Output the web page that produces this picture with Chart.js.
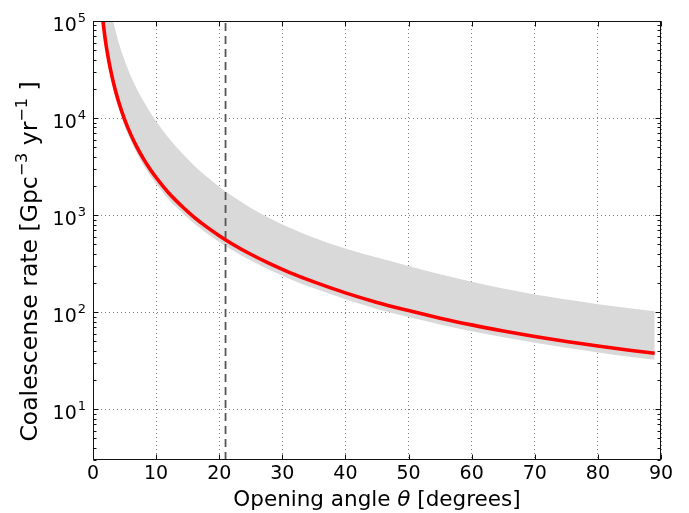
<!DOCTYPE html>
<html>
<head>
<meta charset="utf-8">
<script src="https://cdn.jsdelivr.net/npm/chart.js@4.4.1/dist/chart.umd.min.js"></script>
<style>
  body { margin: 0; background: #fff; }
</style>
</head>
<body>
<canvas id="rate_chart" width="689" height="513"></canvas>
<script>
// opening angle (degrees) and coalescence rate
const theta = [1.4, 2, 2.5, 3, 3.5, 4, 5, 6, 7, 8, 9, 10, 12, 14, 16, 18, 20, 22, 25, 28, 31, 35, 40, 45, 50, 55, 60, 65, 70, 75, 80, 85, 89];
const rate = [124000, 60700, 38900, 27000, 19800, 15200, 9720, 6750, 4960, 3800, 3010, 2440, 1690, 1250, 955, 756, 614, 508, 395, 316, 259, 205, 158, 126, 104, 86.8, 74, 64.1, 56.2, 49.9, 44.8, 40.5, 37.7];
const rateLow = [106600, 52200, 33500, 23200, 17000, 13100, 8360, 5810, 4270, 3270, 2590, 2100, 1450, 1075, 821, 650, 528, 437, 340, 272, 223, 176, 136, 108, 89, 74.6, 63.6, 55.1, 48.3, 42.9, 38.5, 34.8, 32.4];
const rateHigh = [529000, 257700, 163900, 113100, 82560, 62400, 39420, 27020, 19590, 14900, 11620, 9280, 6224, 4410, 3253, 2493, 1957, 1579, 1185, 930, 748, 585, 453, 365, 300, 246, 206, 175, 152, 135, 121, 110, 102];
const thetaCut = 21;

const xRange = [0, 90];
const yRange = [3, 100000];
const xTicks = [0, 10, 20, 30, 40, 50, 60, 70, 80, 90];
const yTicks = [10, 100, 1000, 10000, 100000];

const FONT = "'DejaVu Sans', sans-serif";

function pts(ys) {
  return theta.map((t, i) => ({ x: t, y: ys[i] }));
}

const frameAndLabels = {
  id: "frameAndLabels",
  afterDraw(chart) {
    const ctx = chart.ctx;
    const a = chart.chartArea;
    const xs = chart.scales.x, ys = chart.scales.y;
    const L = Math.round(a.left) + 0.5, R = Math.round(a.right) - 0.5;
    const T = Math.round(a.top) + 0.5, B = Math.round(a.bottom) - 0.5;
    ctx.save();
    ctx.strokeStyle = "#111";
    ctx.lineWidth = 1;
    ctx.strokeRect(L, T, R - L, B - T);

    // inward ticks, matplotlib style
    ctx.beginPath();
    xTicks.forEach((v) => {
      const px = Math.round(xs.getPixelForValue(v)) + 0.5;
      ctx.moveTo(px, B); ctx.lineTo(px, B - 5);
      ctx.moveTo(px, T); ctx.lineTo(px, T + 5);
    });
    yTicks.forEach((v) => {
      const py = Math.round(ys.getPixelForValue(v)) + 0.5;
      ctx.moveTo(L, py); ctx.lineTo(L + 5, py);
      ctx.moveTo(R, py); ctx.lineTo(R - 5, py);
    });
    [1, 10, 100, 1000, 10000].forEach((d) => {
      for (let m = 2; m <= 9; m++) {
        const v = m * d;
        if (v < yRange[0] || v > yRange[1]) continue;
        const py = Math.round(ys.getPixelForValue(v)) + 0.5;
        ctx.moveTo(L, py); ctx.lineTo(L + 3, py);
        ctx.moveTo(R, py); ctx.lineTo(R - 3, py);
      }
    });
    ctx.stroke();

    // y tick labels 10^n
    ctx.fillStyle = "#000";
    ctx.textBaseline = "alphabetic";
    ctx.textAlign = "left";
    yTicks.forEach((v) => {
      const py = ys.getPixelForValue(v);
      const e = String(Math.round(Math.log10(v)));
      ctx.font = "13px " + FONT;
      const we = ctx.measureText(e).width;
      ctx.fillText(e, 86 - we, py + 0.5);
      ctx.font = "19px " + FONT;
      const wb = ctx.measureText("10").width;
      ctx.fillText("10", 86 - we - 1 - wb, py + 10);
    });

    // x axis title
    const xParts = [
      ["Opening angle ", "21.5px " + FONT],
      ["\u03b8", "italic 21.5px " + FONT],
      [" [degrees]", "21.5px " + FONT],
    ];
    let tw = 0;
    xParts.forEach((p) => { ctx.font = p[1]; tw += ctx.measureText(p[0]).width; });
    let cx = (a.left + a.right) / 2 - tw / 2;
    xParts.forEach((p) => {
      ctx.font = p[1];
      ctx.fillText(p[0], cx, 506);
      cx += ctx.measureText(p[0]).width;
    });

    // y axis title, rotated
    const yParts = [
      ["Coalescense rate [Gpc", 23.5, 0],
      ["\u22123", 16, -10],
      [" yr", 23.5, 0],
      ["\u22121", 16, -10],
      [" ]", 23.5, 0],
    ];
    ctx.translate(37, 261.5);
    ctx.rotate(-Math.PI / 2);
    tw = 0;
    yParts.forEach((p) => { ctx.font = p[1] + "px " + FONT; tw += ctx.measureText(p[0]).width; });
    cx = -tw / 2;
    yParts.forEach((p) => {
      ctx.font = p[1] + "px " + FONT;
      ctx.fillText(p[0], cx, p[2]);
      cx += ctx.measureText(p[0]).width;
    });
    ctx.restore();
  },
};

const gridOpts = {
  color: "rgba(0,0,0,0.5)",
  lineWidth: 1,
  drawTicks: false,
};

const config = {
  type: "line",
  data: {
    datasets: [
      {
        label: "rate",
        data: pts(rate),
        borderColor: "#ff0000",
        borderWidth: 3.6,
        pointRadius: 0,
        cubicInterpolationMode: "monotone",
        fill: false,
        clip: 0,
        order: 0,
      },
      {
        label: "opening angle",
        data: [{ x: thetaCut, y: yRange[0] }, { x: thetaCut, y: yRange[1] }],
        borderColor: "#555555",
        borderWidth: 1.8,
        borderDash: [8, 5],
        pointRadius: 0,
        fill: false,
        clip: 0,
        order: 1,
      },
      {
        label: "upper",
        data: pts(rateHigh),
        borderWidth: 0,
        borderColor: "rgba(0,0,0,0)",
        backgroundColor: "#d9d9d9",
        pointRadius: 0,
        cubicInterpolationMode: "monotone",
        fill: "+1",
        clip: 0,
        order: 2,
      },
      {
        label: "lower",
        data: pts(rateLow),
        borderWidth: 0,
        borderColor: "rgba(0,0,0,0)",
        pointRadius: 0,
        cubicInterpolationMode: "monotone",
        fill: false,
        clip: 0,
        order: 3,
      },
    ],
  },
  options: {
    responsive: false,
    animation: false,
    events: [],
    layout: { padding: { left: 0, right: 28, top: 21, bottom: 0 } },
    plugins: {
      legend: { display: false },
      tooltip: { enabled: false },
    },
    scales: {
      x: {
        type: "linear",
        min: xRange[0],
        max: xRange[1],
        z: 1,
        afterBuildTicks: (s) => { s.ticks = xTicks.map((v) => ({ value: v })); },
        afterFit: (s) => { s.height = 53; },
        grid: gridOpts,
        border: { display: false, dash: [1, 3] },
        ticks: {
          color: "#000",
          padding: 3,
          maxRotation: 0,
          font: { family: FONT, size: 19 },
        },
      },
      y: {
        type: "logarithmic",
        min: yRange[0],
        max: yRange[1],
        z: 1,
        afterBuildTicks: (s) => { s.ticks = yTicks.map((v) => ({ value: v })); },
        afterFit: (s) => { s.width = 93; },
        grid: gridOpts,
        border: { display: false, dash: [1, 3] },
        ticks: { display: false },
      },
    },
  },
  plugins: [frameAndLabels],
};

new Chart(document.getElementById("rate_chart"), config);
</script>
</body>
</html>
